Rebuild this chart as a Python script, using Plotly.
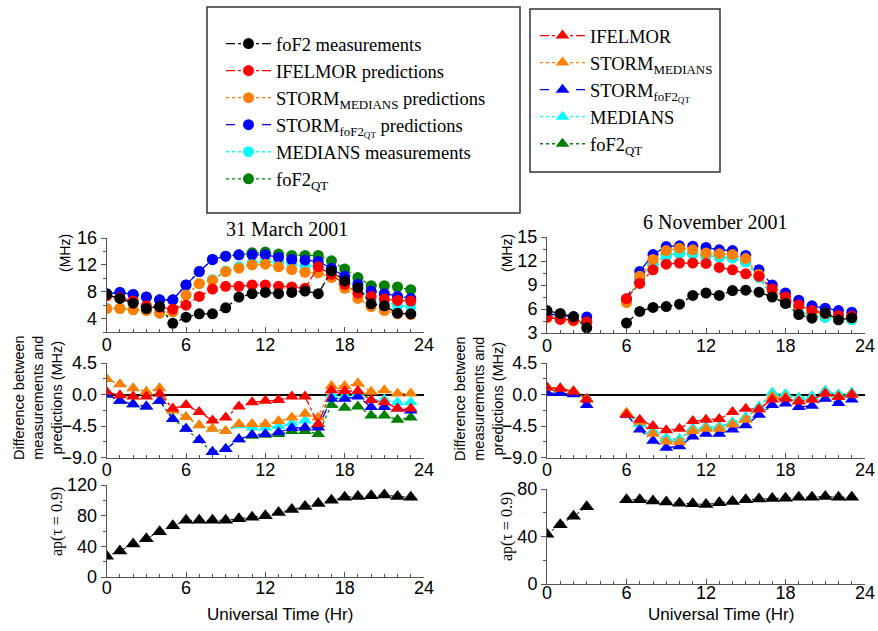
import plotly.graph_objects as go

W, H = 878, 631
hours = list(range(24))

# ---------------- 31 March 2001 (left column) ----------------
fof2_L = [7.6, 7.0, 6.3, 5.5, 5.8, 3.3, 4.2, 4.7, 4.7, 5.6, 7.2, 7.7, 7.9, 7.7, 7.9, 8.1, 7.7, 11.1, 9.6, 8.6, 6.2, 5.9, 4.8, 4.7]
ifelmor_L = [7.4, 7.1, 6.6, 5.9, 5.7, 5.4, 6.0, 7.3, 8.4, 8.8, 8.8, 9.0, 9.0, 8.8, 8.7, 8.5, 11.7, 10.6, 9.1, 7.8, 7.3, 6.9, 6.7, 6.6]
stmed_L = [5.5, 5.5, 5.3, 5.2, 4.8, 5.0, 7.5, 9.2, 9.7, 11.0, 11.5, 12.0, 12.1, 11.7, 11.3, 10.9, 10.8, 10.1, 8.5, 7.0, 5.8, 5.2, 4.7, 4.6]
stqt_L = [7.7, 7.9, 7.6, 7.2, 6.8, 6.8, 9.0, 11.0, 12.8, 13.3, 13.5, 13.5, 13.5, 13.1, 12.8, 12.7, 12.5, 11.5, 10.3, 9.1, 8.1, 7.7, 7.3, 7.0]
medians_L = [5.5, 5.5, 5.3, 5.2, 4.8, 5.0, 7.5, 9.2, 9.8, 11.1, 11.7, 12.3, 12.5, 12.4, 12.2, 11.8, 12.0, 11.1, 9.8, 8.5, 7.0, 6.6, 5.9, 5.8]
fof2qt_L = [7.7, 7.9, 7.6, 7.2, 6.8, 6.8, 9.0, 11.0, 12.8, 13.3, 13.5, 13.8, 13.9, 13.6, 13.4, 13.4, 13.4, 12.6, 11.4, 10.1, 8.9, 8.9, 8.7, 8.3]

d_ifelmor_L = [0.4, -0.1, -0.3, -0.3, 0.1, -2.0, -1.5, -2.5, -3.7, -3.3, -1.7, -1.1, -0.9, -0.8, -0.3, -0.3, -4.2, 0.6, 0.5, 0.5, -0.8, -1.1, -2.0, -2.0]
d_stmed_L = [2.2, 1.45, 0.9, 0.4, 0.9, -2.3, -3.2, -4.4, -4.9, -5.2, -4.2, -4.2, -4.2, -3.8, -3.3, -2.75, -3.3, 1.2, 1.2, 1.6, 0.4, 0.6, 0.15, 0.15]
d_stqt_L = [0.0, -0.9, -1.4, -1.7, -0.9, -3.5, -4.9, -6.5, -8.2, -7.8, -6.4, -5.75, -5.65, -5.4, -4.8, -4.7, -4.7, -0.6, -0.6, -0.3, -1.8, -1.8, -2.0, -2.3]
d_med_L = [2.2, 1.45, 0.9, 0.4, 0.9, -2.3, -3.2, -4.4, -4.9, -5.2, -4.4, -4.7, -4.7, -4.5, -4.1, -3.7, -4.3, 0.0, -0.2, 0.2, -0.8, -0.7, -1.1, -1.1]
d_qt_L = [0.0, -0.9, -1.4, -1.7, -0.9, -3.5, -4.9, -6.5, -8.2, -7.8, -6.4, -5.9, -5.75, -5.65, -5.2, -5.2, -5.65, -1.5, -1.9, -1.7, -3.0, -3.0, -3.6, -3.3]

ap_L = [27, 34, 43, 50, 59, 67, 74, 74, 74, 74, 76, 78, 80, 84, 88, 92, 96, 100, 104, 105, 106, 107, 105, 104]

# ---------------- 6 November 2001 (right column) ----------------
fof2_R = [5.8, 5.45, 5.05, 3.65, None, None, 4.25, 5.7, 6.2, 6.3, 6.6, 7.7, 8.0, 7.7, 8.3, 8.35, 8.1, 7.5, 6.7, 5.3, 4.85, 5.5, 4.65, 4.9]
ifelmor_R = [5.0, 4.7, 4.6, 4.4, None, None, 7.3, 9.2, 10.9, 11.6, 11.75, 11.75, 11.7, 11.2, 10.9, 10.4, 10.1, 8.5, 7.5, 6.5, 5.8, 5.5, 5.2, 5.1]
stmed_R = [4.9, 4.8, 4.5, 4.3, None, None, 6.8, 10.1, 12.2, 13.3, 13.6, 13.4, 13.0, 12.9, 12.8, 12.3, 10.3, 8.2, 7.3, 6.3, 5.6, 5.4, 5.0, 4.9]
stqt_R = [5.4, 5.2, 5.0, 5.0, None, None, 7.2, 10.7, 12.8, 13.8, 13.9, 13.85, 13.7, 13.4, 13.3, 12.7, 10.9, 9.0, 8.0, 7.1, 6.4, 6.1, 5.8, 5.6]
medians_R = [5.0, 4.9, 4.6, 4.4, None, None, 7.0, 9.9, 11.6, 12.7, 13.0, 12.9, 12.7, 12.5, 12.4, 11.9, 10.0, 7.6, 6.7, 5.8, 5.1, 5.0, 4.7, 4.7]
fof2qt_R = [5.0, 4.9, 4.6, 4.4, None, None, 7.0, 9.9, 11.6, 12.7, 13.0, 12.9, 12.7, 12.5, 12.4, 11.9, 10.0, 7.6, 6.7, 5.8, 5.1, 5.0, 4.7, 4.7]

d_ifelmor_R = [1.0, 0.85, 0.4, -0.7, None, None, -2.9, -3.6, -4.5, -5.1, -4.9, -3.8, -3.6, -3.5, -2.5, -2.05, -2.1, -0.7, -0.6, -1.0, -0.7, 0.15, -0.35, 0.0]
d_stmed_R = [1.0, 0.85, 0.5, -0.6, None, None, -2.6, -3.9, -5.6, -6.7, -6.8, -5.2, -4.9, -4.9, -4.3, -3.6, -2.1, -0.3, -0.4, -0.9, -0.7, 0.1, -0.3, 0.0]
d_stqt_R = [0.2, 0.2, 0.05, -1.5, None, None, -2.9, -5.0, -6.6, -7.6, -7.4, -6.0, -5.6, -5.6, -5.0, -4.4, -2.9, -1.5, -1.3, -1.8, -1.6, -0.6, -1.2, -0.7]
d_med_R = [1.0, 0.9, 0.5, -0.6, None, None, -2.7, -4.2, -5.3, -6.3, -6.4, -4.9, -4.6, -4.6, -4.0, -3.3, -1.8, 0.2, 0.0, -0.5, -0.3, 0.5, 0.0, 0.2]
d_qt_R = [1.0, 0.9, 0.5, -0.6, None, None, -2.7, -4.2, -5.3, -6.3, -6.4, -4.9, -4.6, -4.6, -4.0, -3.3, -1.8, 0.2, 0.0, -0.5, -0.3, 0.5, 0.0, 0.2]

ap_R = [42, 50, 57, 65, None, None, 71, 71, 70, 69, 68, 67.5, 67, 68.5, 69.5, 71, 71.5, 72, 72.3, 73, 73, 73.7, 73, 73]

# ---------------- labels ----------------
legend1_names = ["foF2 measurements", "IFELMOR predictions", "STORM<sub>MEDIANS</sub> predictions",
                 "STORM<sub>foF2<sub>QT</sub></sub> predictions", "MEDIANS measurements", "foF2<sub>QT</sub>"]
legend2_names = ["IFELMOR", "STORM<sub>MEDIANS</sub>", "STORM<sub>foF2<sub>QT</sub></sub>", "MEDIANS", "foF2<sub>QT</sub>"]
titles = ["31 March 2001", "6 November 2001"]

C_BLACK, C_RED, C_ORANGE, C_BLUE, C_CYAN, C_GREEN = "#000000", "#ff0000", "#ff8000", "#0000ff", "#00ffff", "#008000"

fig = go.Figure()

def px(xp):
    return xp / W

def py(yp):
    return 1 - yp / H

# top panels: draw order green, cyan, blue, orange, red, black
top_sets = [
    (1, [fof2qt_L, medians_L, stqt_L, stmed_L, ifelmor_L, fof2_L], True),
    (4, [fof2qt_R, medians_R, stqt_R, stmed_R, ifelmor_R, fof2_R], False),
]
top_colors = [C_GREEN, C_CYAN, C_BLUE, C_ORANGE, C_RED, C_BLACK]
top_dash = ["dot", "dot", "dash", "dot", "dashdot", "dashdot"]
top_rank = [6, 5, 4, 3, 2, 1]
for ax, sets, show in top_sets:
    for i, ys in enumerate(sets):
        fig.add_trace(go.Scatter(
            x=hours, y=ys, mode="lines+markers",
            xaxis="x" if ax == 1 else "x%d" % ax, yaxis="y" if ax == 1 else "y%d" % ax,
            line=dict(color=top_colors[i], width=1.3, dash=top_dash[i]),
            marker=dict(symbol="circle", size=11, color=top_colors[i]),
            name=legend1_names[top_rank[i] - 1], legend="legend", legendrank=top_rank[i],
            showlegend=show, connectgaps=False))

mid_sets = [
    (2, [d_qt_L, d_med_L, d_stqt_L, d_stmed_L, d_ifelmor_L], True),
    (5, [d_qt_R, d_med_R, d_stqt_R, d_stmed_R, d_ifelmor_R], False),
]
mid_colors = [C_GREEN, C_CYAN, C_BLUE, C_ORANGE, C_RED]
mid_dash = ["dot", "dot", "dash", "dot", "dashdot"]
mid_rank = [5, 4, 3, 2, 1]
for ax, sets, show in mid_sets:
    for i, ys in enumerate(sets):
        fig.add_trace(go.Scatter(
            x=hours, y=ys, mode="lines+markers",
            xaxis="x%d" % ax, yaxis="y%d" % ax,
            line=dict(color=mid_colors[i], width=1.3, dash=mid_dash[i]),
            marker=dict(symbol="triangle-up", size=12, color=mid_colors[i]),
            name=legend2_names[mid_rank[i] - 1], legend="legend2", legendrank=mid_rank[i],
            showlegend=show, connectgaps=False))

for ax, ys in [(3, ap_L), (6, ap_R)]:
    fig.add_trace(go.Scatter(
        x=hours, y=ys, mode="lines+markers", xaxis="x%d" % ax, yaxis="y%d" % ax,
        line=dict(color=C_BLACK, width=1, dash="dot"),
        marker=dict(symbol="triangle-up", size=13, color=C_BLACK),
        showlegend=False, connectgaps=False))

tickfont = dict(family="Liberation Sans, Arial, sans-serif", size=18, color="black")
axcommon = dict(showline=True, linecolor="#555", linewidth=1, ticklen=5,
                tickcolor="#555", showgrid=False, zeroline=False, tickfont=tickfont,
                automargin=False)

xL = [106.7 / W, 424 / W]
xR = [547 / W, 865 / W]
layout_axes = {}
# axis id: (x domain, y domain, y range, y ticks, y minor step, y format, x label standoff)
specs = {
    1: (xL, [py(332), py(238)], [2, 16], [4, 8, 12, 16], 2, None, -4),
    2: (xL, [py(457.5), py(363)], [-9, 4.5], [-9, -4.5, 0, 4.5], 2.25, ".1f", -4),
    3: (xL, [py(577), py(485)], [0, 120], [0, 40, 80, 120], 20, None, -6),
    4: (xR, [py(333), py(237)], [3, 15], [3, 6, 9, 12, 15], 1.5, None, -4),
    5: (xR, [py(457.5), py(363)], [-9, 4.5], [-9, -4.5, 0, 4.5], 2.25, ".1f", -4),
    6: (xR, [py(584), py(489)], [0, 80], [0, 40, 80], 20, None, -8),
}
for k, (xd, yd, yr, yt, ymin, fmt, stand) in specs.items():
    xn = "xaxis" if k == 1 else "xaxis%d" % k
    yn = "yaxis" if k == 1 else "yaxis%d" % k
    xa = dict(axcommon)
    xa.update(domain=xd, range=[0, 24], tickvals=[0, 6, 12, 18, 24], ticks="inside",
              anchor="y" if k == 1 else "y%d" % k, ticklabelstandoff=stand,
              minor=dict(ticks="inside", ticklen=3, tickcolor="#555", dtick=1, tick0=0))
    ya = dict(axcommon)
    ya.update(domain=yd, range=yr, tickvals=yt, anchor="x" if k == 1 else "x%d" % k, ticks="outside",
              minor=dict(ticks="outside", ticklen=3, tickcolor="#555", dtick=ymin, tick0=0))
    if fmt:
        ya["tickformat"] = fmt
    if k in (2, 5):
        ya.update(zeroline=True, zerolinecolor="black", zerolinewidth=2)
    layout_axes[xn] = xa
    layout_axes[yn] = ya

annots = []
def ann(text, xp, yp, size, family, angle=0):
    annots.append(dict(text=text, x=px(xp), y=py(yp), xref="paper", yref="paper",
                       showarrow=False, xanchor="center", yanchor="middle", textangle=angle,
                       font=dict(family=family, size=size, color="black")))

SERIF = "Liberation Serif, Times New Roman, serif"
SANS = "Liberation Sans, Arial, sans-serif"
ann(titles[0], 287, 229, 20, SERIF)
ann(titles[1], 715, 222, 20, SERIF)
ann("(MHz)", 65, 253, 14, SANS, -90)
ann("(MHz)", 507, 253, 14, SANS, -90)
ann("Difference between<br>measurements and<br>predictions (MHz)", 38, 398, 14.5, SANS, -90)
ann("Difference between<br>measurements and<br>predictions (MHz)", 479, 398, 14.5, SANS, -90)
ann("ap(τ = 0.9)", 57, 522, 16, SERIF, -90)
ann("ap(τ = 0.9)", 507, 527, 16, SERIF, -90)
ann("Universal Time (Hr)", 280, 614, 17, SANS)
ann("Universal Time (Hr)", 721, 614, 17, SANS)

shapes = [
    dict(type="rect", xref="paper", yref="paper", x0=px(207), x1=px(520), y0=py(213), y1=py(7),
         line=dict(color="#333", width=1.5), fillcolor="rgba(0,0,0,0)"),
    dict(type="rect", xref="paper", yref="paper", x0=px(530), x1=px(720), y0=py(172), y1=py(9),
         line=dict(color="#333", width=1.5), fillcolor="rgba(0,0,0,0)"),
]

legfont = dict(family=SERIF, size=18.5, color="black")
fig.update_layout(
    width=W, height=H, margin=dict(l=0, r=0, t=0, b=0, autoexpand=False),
    paper_bgcolor="white", plot_bgcolor="white",
    annotations=annots, shapes=shapes,
    legend=dict(x=px(221), y=py(25), xanchor="left", yanchor="top", bgcolor="rgba(0,0,0,0)",
                borderwidth=0, font=legfont, itemwidth=45, tracegroupgap=0),
    legend2=dict(x=px(535), y=py(17), xanchor="left", yanchor="top", bgcolor="rgba(0,0,0,0)",
                 borderwidth=0, font=legfont, itemwidth=45, tracegroupgap=0),
    **layout_axes,
)

fig.write_html(
    "out.html",
    config={"displayModeBar": False},
    post_script=("document.documentElement.style.margin='0';document.documentElement.style.overflow='hidden';"
                 "document.body.style.margin='0';document.body.style.overflow='hidden';"),
)
